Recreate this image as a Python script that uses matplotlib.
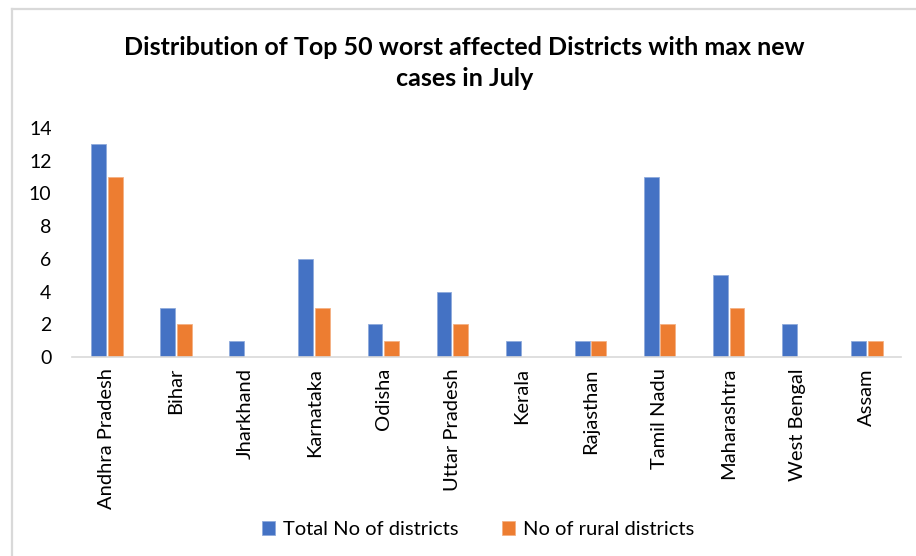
import numpy as np
import matplotlib.pyplot as plt
from matplotlib.lines import Line2D

states = ["Andhra Pradesh", "Bihar", "Jharkhand", "Karnataka", "Odisha", "Uttar Pradesh",
          "Kerala", "Rajasthan", "Tamil Nadu", "Maharashtra", "West Bengal", "Assam"]
total = [13, 3, 1, 6, 2, 4, 1, 1, 11, 5, 2, 1]
rural = [11, 2, 0, 3, 1, 2, 0, 1, 2, 3, 0, 1]

plt.rcParams['font.family'] = ['Lato', 'DejaVu Sans']

fig = plt.figure(figsize=(9.16, 5.56), dpi=100)
ax = fig.add_axes([0.079, 0.358, 0.905, 0.412])

x = np.arange(len(states))
w = 0.215
ax.bar(x - 0.12, total, w, color="#4472C4", edgecolor="#8faadc", linewidth=0.6, label="Total No of districts")
ax.bar(x + 0.12, rural, w, color="#ED7D31", edgecolor="#f4b183", linewidth=0.6, label="No of rural districts")

ax.set_xlim(-0.5, len(states) - 0.5)
ax.set_ylim(0, 14)
ax.set_yticks(range(0, 15, 2))
ax.set_xticks(x)
ax.set_xticklabels(states, rotation=90, fontsize=14.5)
ax.tick_params(axis='y', labelsize=14, length=0, pad=15)
ax.tick_params(axis='x', length=0, pad=8)

for s in ["top", "right", "left"]:
    ax.spines[s].set_visible(False)
ax.spines["bottom"].set_color("#d9d9d9")
ax.spines["bottom"].set_linewidth(1.2)

fig.suptitle("Distribution of Top 50 worst affected Districts with max new\ncases in July",
             fontsize=18, fontweight="bold", y=0.935, x=0.507, linespacing=1.4)

fig.legend(loc="lower center", bbox_to_anchor=(0.522, 0.0), ncol=2, frameon=False,
           fontsize=14.5, handlelength=0.6, handleheight=0.7, columnspacing=2.2, handletextpad=0.4)

# chart frame (only top and left edges fall inside the image)
fig.add_artist(Line2D([0.0136, 0.0136], [0.983, 0.0], transform=fig.transFigure,
                      color="#d9d9d9", linewidth=1.6))
fig.add_artist(Line2D([0.0136, 1.0], [0.983, 0.983], transform=fig.transFigure,
                      color="#d9d9d9", linewidth=1.6))

fig.savefig("out.png", dpi=100)
